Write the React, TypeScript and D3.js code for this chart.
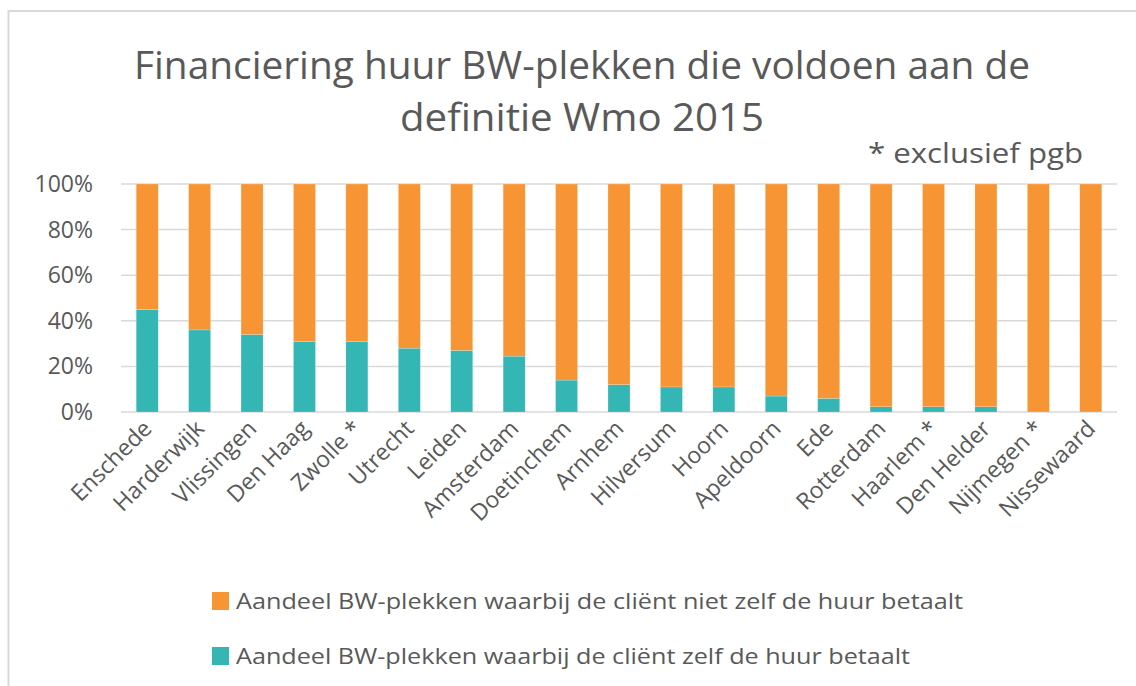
import React from 'react';
import * as d3 from 'd3';

// gemeenten, in de volgorde van de grafiek
const cities = [
  'Enschede', 'Harderwijk', 'Vlissingen', 'Den Haag', 'Zwolle *', 'Utrecht',
  'Leiden', 'Amsterdam', 'Doetinchem', 'Arnhem', 'Hilversum', 'Hoorn',
  'Apeldoorn', 'Ede', 'Rotterdam', 'Haarlem *', 'Den Helder', 'Nijmegen *', 'Nissewaard'
];

// aandeel (%) waarbij de cliënt zelf de huur betaalt
const zelf = [45, 36, 34, 31, 31, 28, 27, 24.5, 14, 12, 11, 11, 7, 6, 2.3, 2.3, 2.3, 0, 0];
// rest: niet zelf
const nietZelf = zelf.map(v => 100 - v);

const yTicks = [0, 20, 40, 60, 80, 100];

const seriesNames = [
  'Aandeel BW-plekken waarbij de cliënt niet zelf de huur betaalt',
  'Aandeel BW-plekken waarbij de cliënt zelf de huur betaalt'
];
const legendWidths = [727, 674];

const ORANGE = '#F79433';
const TEAL = '#34B6B4';
const TEXT = '#595959';
const GRID = '#D9D9D9';
const FONT = '"Open Sans", Lato, sans-serif';

const W = 1136;
const H = 686;

export default function App() {
  const x = d3.scaleBand<string>()
    .domain(cities)
    .range([121, 1117])
    .paddingInner(0.58)
    .paddingOuter(0.29);

  const y = d3.scaleLinear()
    .domain([0, 100])
    .range([412, 184]);

  const rows = cities.map((c, i) => ({ city: c, zelf: zelf[i], niet: nietZelf[i] }));
  const stack = d3.stack<any>().keys(['zelf', 'niet'])(rows);
  const colors: Record<string, string> = { zelf: TEAL, niet: ORANGE };

  return (
    <svg width={W} height={H} style={{ position: 'absolute', left: 0, top: 0, background: '#fff' }}
      fontFamily={FONT}>
      <rect x={8.5} y={11} width={W + 10} height={H + 10} fill="#fff" stroke={GRID} strokeWidth={2} />

      {/* titel */}
      <text x={582} y={79} textAnchor="middle" fontSize={38} fill={TEXT}
        textLength={896} lengthAdjust="spacingAndGlyphs">
        Financiering huur BW-plekken die voldoen aan de
      </text>
      <text x={582} y={131} textAnchor="middle" fontSize={38} fill={TEXT}
        textLength={364} lengthAdjust="spacingAndGlyphs">
        definitie Wmo 2015
      </text>
      <text x={868} y={163} fontSize={28} fill={TEXT}
        textLength={215} lengthAdjust="spacingAndGlyphs">
        * exclusief pgb
      </text>

      {/* rasterlijnen + y-as */}
      {yTicks.map(t => (
        <g key={t}>
          <line x1={121} x2={1117} y1={y(t)} y2={y(t)} stroke={GRID} strokeWidth={1.5} />
          <text x={93} y={y(t)} dy="0.35em" textAnchor="end" fontSize={23} fill={TEXT}>{t}%</text>
        </g>
      ))}

      {/* staven */}
      {stack.map(s => (
        <g key={s.key} fill={colors[s.key]}>
          {s.map((d, i) => (
            <rect key={i} x={x(cities[i])} width={x.bandwidth()}
              y={y(d[1])} height={Math.max(0, y(d[0]) - y(d[1]))}
              stroke="#fff" strokeOpacity={0.4} strokeWidth={0.5} />
          ))}
        </g>
      ))}

      {/* categorie-labels */}
      {cities.map(c => {
        const cx = (x(c) ?? 0) + x.bandwidth() / 2 + 6;
        return (
          <text key={c} transform={`translate(${cx},430) rotate(-45)`} textAnchor="end"
            fontSize={23} fill={TEXT}>{c}</text>
        );
      })}

      {/* legenda */}
      {seriesNames.map((n, i) => (
        <g key={n} transform={`translate(212,${592 + i * 55})`}>
          <rect width={17} height={18} fill={i === 0 ? ORANGE : TEAL} />
          <text x={24} y={9} dy="0.35em" fontSize={22} fill={TEXT}
            textLength={legendWidths[i]} lengthAdjust="spacingAndGlyphs">{n}</text>
        </g>
      ))}
    </svg>
  );
}
